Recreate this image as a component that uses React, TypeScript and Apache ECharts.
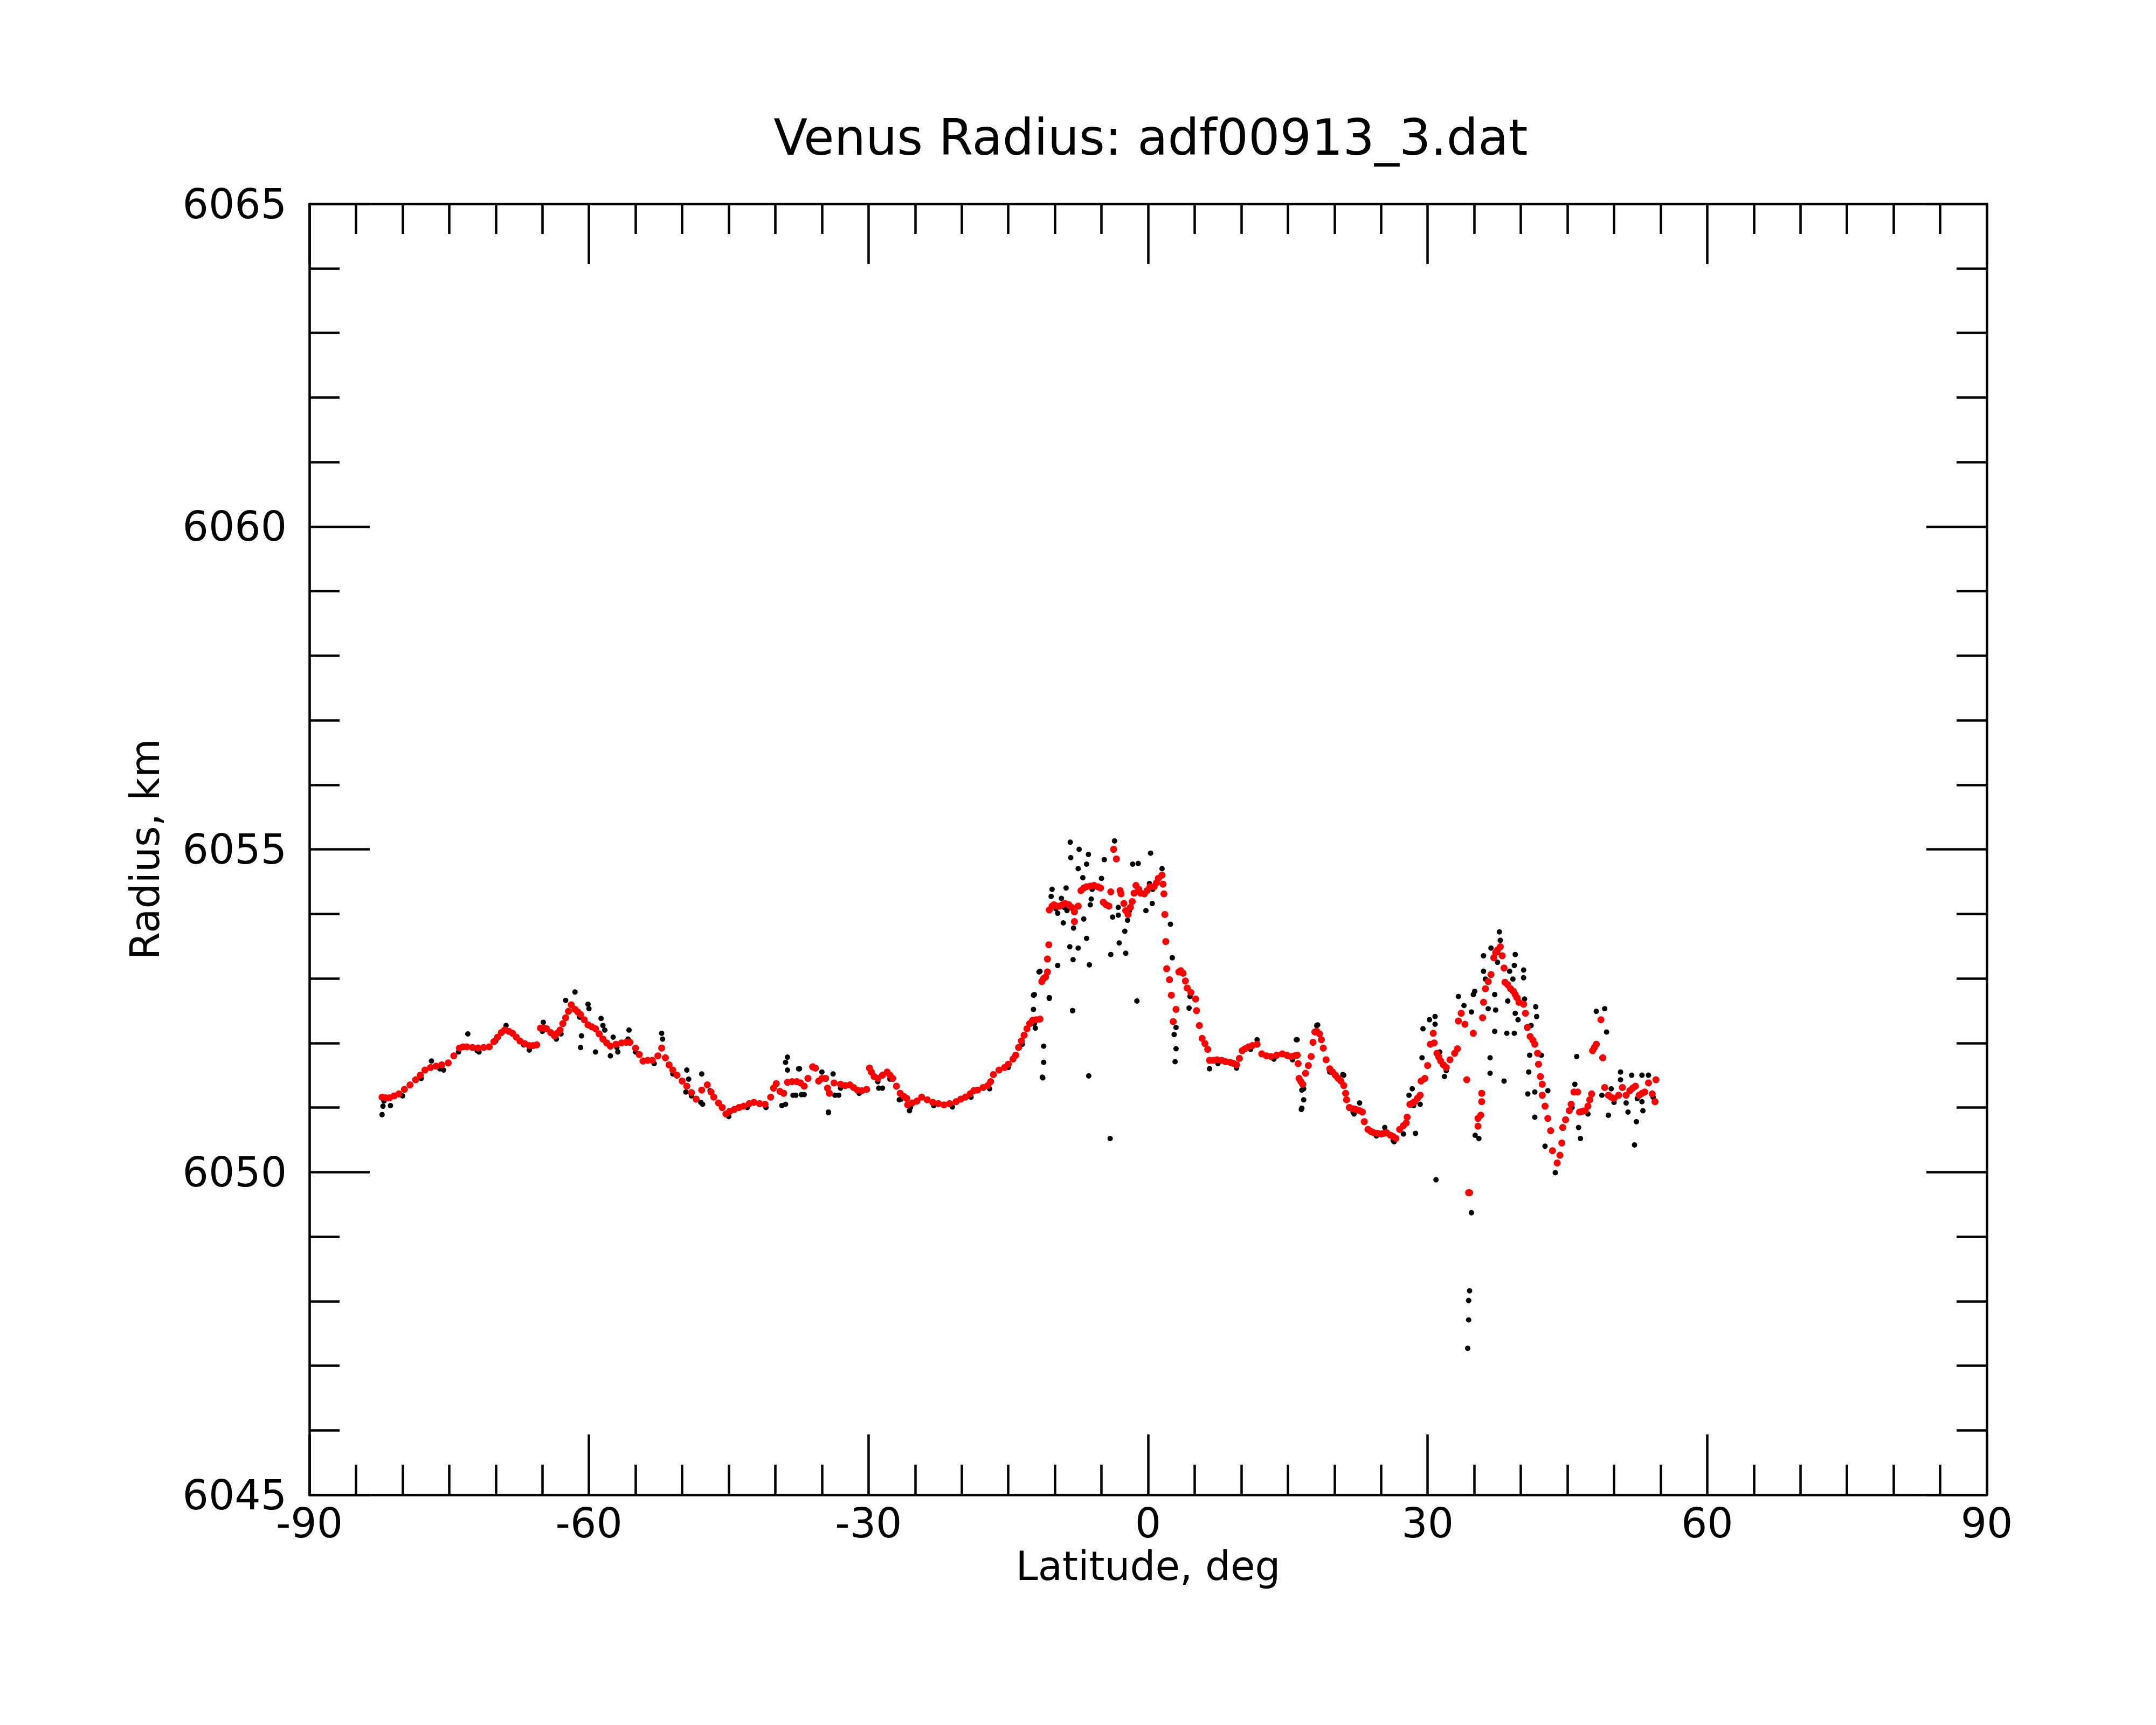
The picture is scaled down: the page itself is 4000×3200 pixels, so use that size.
import React, { useEffect, useRef } from "react";
import * as echarts from "echarts";

const TITLE = "Venus Radius: adf00913_3.dat";
const X_NAME = "Latitude, deg";
const Y_NAME = "Radius, km";
const X_MIN = -90;
const X_MAX = 90;
const X_STEP = 30;
const Y_MIN = 6045;
const Y_MAX = 6065;
const Y_STEP = 5;

// smoothed (red) radius profile: [latitude deg, radius km]
const smoothedPoints: [number, number][] = [
  [-82.2, 6051.16], [-81.8, 6051.15], [-81.4, 6051.15], [-80.9, 6051.18], [-80.4, 6051.21],
  [-79.8, 6051.28], [-79.2, 6051.35], [-78.6, 6051.43], [-78.1, 6051.5], [-77.6, 6051.58],
  [-77.0, 6051.62], [-76.4, 6051.64], [-75.8, 6051.66], [-75.1, 6051.69], [-74.5, 6051.8],
  [-73.9, 6051.92], [-73.5, 6051.94], [-73.1, 6051.94], [-72.5, 6051.93], [-71.9, 6051.92],
  [-71.3, 6051.93], [-70.7, 6051.94], [-70.2, 6052.02], [-69.8, 6052.09], [-69.4, 6052.16],
  [-69.05, 6052.2], [-68.6, 6052.18], [-68.2, 6052.15], [-67.8, 6052.09], [-67.4, 6052.03],
  [-66.9, 6051.99], [-66.4, 6051.96], [-66.0, 6051.96], [-65.6, 6051.97], [-65.2, 6052.23],
  [-64.9, 6052.23], [-64.55, 6052.22], [-64.1, 6052.16], [-63.7, 6052.11], [-63.4, 6052.15],
  [-63.1, 6052.2], [-62.8, 6052.3], [-62.5, 6052.39], [-62.2, 6052.49], [-61.9, 6052.59],
  [-61.5, 6052.52], [-61.2, 6052.48], [-60.9, 6052.44], [-60.5, 6052.36], [-60.1, 6052.28],
  [-59.7, 6052.25], [-59.3, 6052.22], [-58.9, 6052.14], [-58.5, 6052.06], [-58.1, 6052.0],
  [-57.7, 6051.95], [-57.1, 6051.98], [-56.5, 6052.0], [-56.0, 6052.01], [-55.6, 6052.01],
  [-55.0, 6051.92], [-54.6, 6051.82], [-54.2, 6051.72], [-53.7, 6051.73], [-53.2, 6051.73],
  [-52.6, 6051.8], [-52.2, 6051.92], [-51.8, 6051.77], [-51.4, 6051.66], [-51.0, 6051.58],
  [-50.55, 6051.5], [-50.0, 6051.41], [-49.5, 6051.33], [-49.0, 6051.23], [-48.5, 6051.13],
  [-47.9, 6051.27], [-47.3, 6051.35], [-46.9, 6051.24], [-46.6, 6051.16], [-46.1, 6051.07],
  [-45.7, 6051.0], [-45.3, 6050.9], [-44.9, 6050.94], [-44.4, 6050.97], [-43.9, 6051.0],
  [-43.4, 6051.02], [-42.8, 6051.06], [-42.3, 6051.08], [-41.7, 6051.06], [-41.1, 6051.05],
  [-40.5, 6051.16], [-40.2, 6051.3], [-39.9, 6051.37], [-39.5, 6051.25], [-39.1, 6051.22],
  [-38.7, 6051.39], [-38.2, 6051.4], [-37.7, 6051.4], [-37.3, 6051.38], [-36.9, 6051.33],
  [-36.5, 6051.45], [-36.0, 6051.63], [-35.7, 6051.61], [-35.35, 6051.41], [-35.0, 6051.45],
  [-34.6, 6051.45], [-34.4, 6051.3], [-34.2, 6051.22], [-33.7, 6051.38], [-33.0, 6051.36],
  [-32.5, 6051.34], [-32.0, 6051.35], [-31.6, 6051.31], [-31.2, 6051.27], [-30.7, 6051.26],
  [-30.2, 6051.28], [-29.9, 6051.61], [-29.7, 6051.55], [-29.4, 6051.48], [-29.0, 6051.45],
  [-28.5, 6051.5], [-28.0, 6051.55], [-27.7, 6051.5], [-27.4, 6051.45], [-27.0, 6051.33],
  [-26.6, 6051.22], [-26.2, 6051.17], [-25.9, 6051.14], [-25.8, 6051.04], [-25.3, 6051.07],
  [-24.8, 6051.1], [-24.3, 6051.16], [-23.7, 6051.12], [-23.1, 6051.08], [-22.5, 6051.06],
  [-21.9, 6051.04], [-21.3, 6051.06], [-20.6, 6051.09], [-20.1, 6051.13], [-19.6, 6051.16],
  [-19.1, 6051.21], [-18.7, 6051.26], [-18.3, 6051.27], [-17.7, 6051.31], [-17.2, 6051.34],
  [-16.9, 6051.4], [-16.6, 6051.51], [-16.0, 6051.58], [-15.4, 6051.62], [-15.0, 6051.67],
  [-14.5, 6051.75], [-14.2, 6051.81], [-13.9, 6051.93], [-13.6, 6052.03], [-13.3, 6052.12],
  [-13.0, 6052.22], [-12.7, 6052.3], [-12.4, 6052.35], [-12.0, 6052.36], [-11.6, 6052.37],
  [-11.4, 6052.95], [-11.2, 6053.0], [-11.0, 6053.02], [-10.8, 6053.1], [-10.8, 6053.3],
  [-10.65, 6053.52], [-10.6, 6054.06], [-10.3, 6054.12], [-10.1, 6054.14], [-9.8, 6054.12],
  [-9.5, 6054.12], [-9.2, 6054.14], [-8.9, 6054.16], [-8.5, 6054.14], [-8.2, 6054.1],
  [-7.9, 6054.03], [-7.9, 6053.88], [-7.5, 6054.12], [-7.2, 6054.36], [-6.9, 6054.4],
  [-6.6, 6054.42], [-6.2, 6054.43], [-5.8, 6054.44], [-5.4, 6054.42], [-5.1, 6054.4],
  [-4.8, 6054.18], [-4.5, 6054.14], [-4.2, 6054.12], [-4.0, 6054.34], [-3.7, 6055.0],
  [-3.4, 6054.85], [-3.0, 6054.36], [-2.9, 6054.31], [-2.6, 6054.16], [-2.4, 6054.05],
  [-2.15, 6053.99], [-1.9, 6054.1], [-1.7, 6054.19], [-1.5, 6054.32], [-1.3, 6054.44],
  [-1.0, 6054.38], [-0.8, 6054.32], [-0.4, 6054.31], [-0.1, 6054.36], [0.2, 6054.42],
  [0.65, 6054.42], [0.9, 6054.48], [1.1, 6054.55], [1.5, 6054.6], [1.6, 6054.46],
  [1.7, 6054.31], [1.8, 6053.99], [1.9, 6053.57], [2.0, 6053.15], [2.3, 6052.98],
  [2.5, 6052.74], [2.7, 6052.33], [3.0, 6052.52], [3.3, 6053.1], [3.5, 6053.12],
  [3.75, 6053.08], [4.0, 6052.96], [4.2, 6052.85], [4.6, 6052.78], [5.1, 6052.68],
  [5.2, 6052.5], [5.5, 6052.27], [5.8, 6052.07], [6.1, 6051.99], [6.4, 6051.9],
  [6.6, 6051.73], [7.0, 6051.73], [7.4, 6051.74], [7.9, 6051.73], [8.3, 6051.71],
  [8.8, 6051.7], [9.2, 6051.68], [9.5, 6051.66], [9.8, 6051.76], [10.1, 6051.88],
  [10.4, 6051.91], [10.8, 6051.94], [11.2, 6051.96], [11.7, 6051.98], [12.2, 6051.83],
  [12.7, 6051.8], [13.2, 6051.79], [13.8, 6051.81], [14.4, 6051.83], [14.9, 6051.81],
  [15.3, 6051.79], [15.7, 6051.8], [16.0, 6051.81], [16.1, 6051.68], [16.2, 6051.45],
  [16.4, 6051.4], [16.6, 6051.36], [16.9, 6051.53], [17.2, 6051.65], [17.5, 6051.79],
  [17.7, 6052.01], [17.9, 6052.17], [18.1, 6052.18], [18.4, 6052.14], [18.6, 6052.05],
  [18.8, 6051.92], [19.1, 6051.74], [19.5, 6051.6], [19.8, 6051.55], [20.1, 6051.5],
  [20.4, 6051.45], [20.7, 6051.41], [21.0, 6051.34], [21.2, 6051.22], [21.3, 6051.12],
  [21.6, 6051.0], [22.0, 6050.98], [22.3, 6050.97], [22.7, 6050.95], [23.0, 6050.93],
  [23.2, 6050.78], [23.6, 6050.66], [23.9, 6050.63], [24.2, 6050.61], [24.6, 6050.6],
  [25.0, 6050.59], [25.3, 6050.6], [25.6, 6050.61], [26.0, 6050.57], [26.3, 6050.55],
  [26.6, 6050.52], [27.0, 6050.66], [27.4, 6050.72], [27.7, 6050.76], [27.8, 6050.85],
  [28.1, 6051.05], [28.4, 6051.07], [28.6, 6051.09], [28.9, 6051.14], [29.2, 6051.19],
  [29.3, 6051.41], [29.7, 6051.45], [30.0, 6051.65], [30.3, 6051.98], [30.6, 6052.15],
  [30.7, 6052.0], [31.0, 6051.84], [31.2, 6051.78], [31.4, 6051.72], [31.7, 6051.66],
  [32.0, 6051.62], [32.4, 6051.74], [32.9, 6051.84], [33.2, 6051.91], [33.3, 6052.34],
  [33.6, 6052.46], [34.0, 6052.29], [34.2, 6051.43], [34.4, 6049.68], [34.5, 6049.68],
  [34.9, 6052.15], [35.4, 6050.83], [35.4, 6050.71], [35.7, 6050.88], [35.8, 6051.09],
  [35.8, 6051.22], [35.9, 6052.39], [36.0, 6052.63], [36.2, 6052.84], [36.5, 6052.95],
  [36.8, 6053.06], [37.1, 6053.32], [37.3, 6053.4], [37.5, 6053.44], [37.8, 6053.49],
  [38.0, 6053.35], [38.2, 6053.16], [38.3, 6052.94], [38.6, 6052.9], [38.9, 6052.84],
  [39.2, 6052.8], [39.4, 6052.75], [39.6, 6052.7], [39.8, 6052.63], [40.3, 6052.6],
  [40.5, 6052.46], [40.7, 6052.24], [41.0, 6052.1], [41.3, 6052.04], [41.5, 6051.98],
  [41.8, 6051.84], [41.9, 6051.67], [42.1, 6051.48], [42.3, 6051.36], [42.3, 6051.19],
  [42.6, 6051.02], [42.9, 6050.83], [43.2, 6050.64], [43.4, 6050.33], [43.9, 6050.14],
  [44.2, 6050.26], [44.4, 6050.45], [44.5, 6050.69], [44.8, 6050.81], [45.2, 6050.95],
  [45.4, 6051.05], [45.7, 6051.24], [46.1, 6051.24], [46.3, 6050.93], [46.6, 6050.94],
  [46.9, 6050.95], [47.2, 6051.02], [47.4, 6051.12], [47.6, 6051.21], [47.7, 6051.88],
  [47.9, 6051.93], [48.1, 6051.98], [48.6, 6052.36], [48.8, 6051.77], [49.0, 6051.31],
  [49.4, 6051.19], [49.7, 6051.16], [50.0, 6051.14], [50.5, 6051.19], [50.9, 6051.31],
  [51.3, 6051.19], [51.7, 6051.26], [52.0, 6051.3], [52.3, 6051.33], [52.7, 6051.19],
  [53.0, 6051.22], [53.3, 6051.24], [53.7, 6051.38], [54.1, 6051.21], [54.4, 6051.09],
  [54.5, 6051.43],
];

// raw (black) radius measurements: [latitude deg, radius km]
const rawPoints: [number, number][] = [
  [-82.0, 6051.1], [-80.0, 6051.18], [-78.0, 6051.45], [-76.0, 6051.6], [-74.0, 6051.86],
  [-72.0, 6051.88], [-70.0, 6052.03], [-67.0, 6051.97], [-65.0, 6052.18], [-63.0, 6052.14],
  [-61.0, 6052.4], [-59.0, 6052.15], [-57.0, 6051.93], [-55.0, 6051.86], [-53.0, 6051.68],
  [-51.0, 6051.52], [-49.0, 6051.18], [-47.0, 6051.26], [-45.0, 6050.86], [-43.0, 6051.0],
  [-41.0, 6051.0], [-37.0, 6051.34], [-33.0, 6051.3], [-31.0, 6051.22], [-29.0, 6051.4],
  [-25.5, 6051.0], [-23.0, 6051.03], [-21.0, 6051.01], [-19.0, 6051.16], [-17.0, 6051.29],
  [-15.0, 6051.62], [-13.5, 6051.98], [-12.2, 6052.3], [-9.9, 6054.08], [-9.0, 6054.1],
  [-6.0, 6054.38], [-2.0, 6054.05], [0.5, 6054.38], [4.5, 6052.72], [7.5, 6051.68],
  [9.5, 6051.61], [11.0, 6051.9], [13.5, 6051.75], [15.5, 6051.74], [19.5, 6051.55],
  [22.0, 6050.93], [24.5, 6050.56], [26.3, 6050.49], [28.5, 6051.03], [32.0, 6051.57],
  [37.5, 6053.4], [39.5, 6052.7], [45.5, 6051.0], [50.0, 6051.08], [52.5, 6051.14],
  [54.2, 6051.16],
  [-82.2, 6050.89], [-82.1, 6051.02], [-81.3, 6051.03], [-76.9, 6051.72], [-75.6, 6051.58],
  [-73.0, 6052.14], [-71.8, 6051.86], [-68.9, 6052.27], [-66.4, 6051.89], [-64.9, 6052.32],
  [-63.5, 6052.06], [-61.5, 6052.79], [-62.5, 6052.66], [-60.1, 6052.6], [-60.0, 6052.53],
  [-60.8, 6052.11], [-60.9, 6051.93], [-59.3, 6051.86], [-58.7, 6052.38], [-58.5, 6052.27],
  [-58.3, 6052.2], [-57.7, 6051.8], [-57.4, 6052.09], [-56.9, 6051.86], [-55.7, 6052.2],
  [-55.8, 6052.06], [-52.2, 6052.15], [-52.1, 6052.06], [-49.5, 6051.58], [-49.3, 6051.44],
  [-49.6, 6051.24], [-47.9, 6051.52], [-47.8, 6051.05], [-48.0, 6051.08], [-38.7, 6051.78],
  [-38.7, 6051.58], [-37.5, 6051.6], [-37.8, 6051.19], [-38.9, 6051.05], [-37.2, 6051.2],
  [-38.9, 6051.7], [-39.3, 6051.03], [-38.1, 6051.19], [-37.4, 6051.6], [-36.9, 6051.2],
  [-35.0, 6051.55], [-33.8, 6051.52], [-34.3, 6050.93], [-34.3, 6050.92], [-33.6, 6051.19],
  [-33.2, 6051.19], [-28.9, 6051.3], [-28.5, 6051.3], [-27.7, 6051.44], [-26.5, 6051.13],
  [-26.7, 6051.12], [-25.6, 6050.95],
  [-12.2, 6052.75], [-12.3, 6052.52], [-12.1, 6052.23], [-11.2, 6051.95], [-11.2, 6051.7],
  [-11.3, 6051.46], [-10.6, 6052.69], [-8.1, 6052.5], [-11.7, 6053.1], [-11.6, 6053.11],
  [-12.3, 6052.74], [-10.6, 6052.7], [-11.35, 6051.47],
  [-8.35, 6055.11], [-7.4, 6055.0], [-6.4, 6054.92], [-8.3, 6054.87], [-6.6, 6054.77],
  [-7.5, 6054.7], [-4.7, 6054.84], [-3.6, 6055.13], [-1.65, 6054.77], [-1.06, 6054.78],
  [0.27, 6054.94], [1.5, 6054.7], [-7.0, 6054.56], [-5.0, 6054.55], [-10.3, 6054.38],
  [-8.8, 6054.4], [0.15, 6054.47], [-10.4, 6054.27], [-9.3, 6054.24], [-6.1, 6054.23],
  [-6.2, 6054.14], [0.45, 6054.16], [-0.23, 6054.05], [-9.7, 6054.01], [-8.7, 6054.05],
  [-3.2, 6054.1], [-3.2, 6053.98], [-3.8, 6053.95], [-2.2, 6053.9], [-9.1, 6053.86],
  [-8.0, 6053.78], [-6.9, 6053.92], [-2.5, 6053.73], [-6.6, 6053.62], [-8.4, 6053.49],
  [-7.5, 6053.47], [-3.1, 6053.55], [-4.0, 6053.37], [-2.4, 6053.39], [-8.05, 6053.29],
  [-9.7, 6053.2], [-6.3, 6053.21], [-10.6, 6052.7], [-8.1, 6052.5], [-1.2, 6052.65],
  [-6.37, 6051.49], [-4.07, 6050.52],
  [2.4, 6053.84], [2.6, 6053.32], [3.0, 6052.24], [2.8, 6052.13], [3.0, 6051.91],
  [2.9, 6051.71], [4.4, 6052.54], [6.6, 6051.6], [11.7, 6052.05], [16.0, 6052.05],
  [16.5, 6051.27], [16.7, 6051.12], [16.5, 6050.99], [18.1, 6052.27], [20.9, 6051.51],
  [15.9, 6052.05], [16.45, 6050.97], [16.7, 6051.29], [18.2, 6052.28], [21.0, 6051.5],
  [22.1, 6050.9], [22.7, 6051.07], [25.4, 6050.69], [26.4, 6050.47], [27.4, 6050.59],
  [28.7, 6050.6], [28.0, 6051.19], [28.35, 6051.29], [29.2, 6051.05], [29.4, 6051.77],
  [29.5, 6052.22], [30.2, 6052.36], [30.8, 6052.41], [30.8, 6052.29], [31.3, 6051.86],
  [31.8, 6051.48], [33.3, 6052.72], [33.9, 6052.58], [34.7, 6052.48], [34.9, 6052.75],
  [35.05, 6052.8], [35.1, 6050.57], [35.5, 6050.52], [36.0, 6053.35], [36.0, 6053.11],
  [36.2, 6052.99], [36.5, 6052.53], [36.7, 6051.77], [36.7, 6051.53], [37.2, 6052.18],
  [37.2, 6052.75], [37.3, 6052.51], [36.8, 6053.47], [37.7, 6053.72], [37.8, 6053.59],
  [37.5, 6053.25], [38.2, 6051.41], [38.5, 6052.15], [38.6, 6052.65], [38.8, 6053.11],
  [39.15, 6052.99], [39.3, 6053.2], [39.4, 6053.37], [39.4, 6052.46], [39.3, 6052.15],
  [39.7, 6052.36], [40.3, 6053.13], [40.3, 6053.01], [40.4, 6052.68], [40.75, 6051.21],
  [40.85, 6051.55], [40.95, 6051.81], [41.1, 6052.27], [41.5, 6050.85], [41.5, 6051.24],
  [41.6, 6052.56], [41.7, 6052.41], [42.2, 6051.81], [42.6, 6050.4], [42.9, 6051.26],
  [43.7, 6049.99], [46.0, 6051.79], [45.8, 6051.36], [46.2, 6050.69], [46.4, 6050.52],
  [47.2, 6050.9], [48.1, 6052.49], [49.0, 6052.53], [49.2, 6052.17], [48.7, 6051.77],
  [48.7, 6051.19], [49.4, 6050.88], [49.7, 6051.29], [50.7, 6051.55], [50.7, 6051.43],
  [51.5, 6050.93], [51.3, 6051.07], [51.9, 6051.5], [52.4, 6050.78], [52.2, 6050.42],
  [53.0, 6051.5], [53.1, 6050.95], [53.7, 6051.5], [53.0, 6051.09],
  [30.9, 6049.88], [34.7, 6049.37], [34.5, 6048.16], [34.4, 6048.01], [34.4, 6047.71],
  [34.3, 6047.27],
];

const FONT = "'DejaVu Sans', 'Liberation Sans', sans-serif";
const INK = "#000000";

export default function App() {
  const ref = useRef<HTMLDivElement | null>(null);

  useEffect(() => {
    if (!ref.current) return;
    const chart = echarts.init(ref.current, undefined, { renderer: "svg" });

    const lineStyle = { color: INK, width: 4.5 };
    const baseX = {
      type: "value" as const,
      min: X_MIN,
      max: X_MAX,
      interval: X_STEP,
      axisLine: { show: true, onZero: false, lineStyle },
      axisTick: { show: true, inside: true, length: 112, lineStyle },
      minorTick: { show: true, splitNumber: 6, length: 56, lineStyle },
      splitLine: { show: false },
      minorSplitLine: { show: false },
    };
    const baseY = {
      type: "value" as const,
      min: Y_MIN,
      max: Y_MAX,
      interval: Y_STEP,
      axisLine: { show: true, onZero: false, lineStyle },
      axisTick: { show: true, inside: true, length: 112, lineStyle },
      minorTick: { show: true, splitNumber: 5, length: 56, lineStyle },
      splitLine: { show: false },
      minorSplitLine: { show: false },
    };

    chart.setOption({
      animation: false,
      backgroundColor: "#ffffff",
      title: {
        text: TITLE,
        left: 2130,
        top: 204,
        textAlign: "center",
        textStyle: { fontFamily: FONT, fontSize: 92, fontWeight: "normal", color: INK },
      },
      grid: { left: 574, top: 378, width: 3112, height: 2395, containLabel: false },
      xAxis: [
        {
          ...baseX,
          position: "bottom",
          name: X_NAME,
          nameLocation: "middle",
          nameGap: 95,
          nameTextStyle: { fontFamily: FONT, fontSize: 74, color: INK, verticalAlign: "top" },
          axisLabel: {
            show: true,
            margin: 14,
            fontFamily: FONT,
            fontSize: 76,
            color: INK,
            formatter: (v: number) => String(v),
          },
        },
        {
          ...baseX,
          position: "top",
          axisLabel: { show: false },
        },
      ],
      yAxis: [
        {
          ...baseY,
          position: "left",
          name: Y_NAME,
          nameLocation: "middle",
          nameGap: 268,
          nameTextStyle: { fontFamily: FONT, fontSize: 74, color: INK },
          axisLabel: {
            show: true,
            margin: 42,
            fontFamily: FONT,
            fontSize: 76,
            color: INK,
            formatter: (v: number) => String(v),
          },
        },
        {
          ...baseY,
          position: "right",
          axisLabel: { show: false },
        },
      ],
      series: [
        {
          type: "scatter",
          xAxisIndex: 0,
          yAxisIndex: 0,
          data: rawPoints,
          symbol: "circle",
          symbolSize: 10,
          itemStyle: { color: INK, opacity: 1 },
          silent: true,
        },
        {
          type: "scatter",
          xAxisIndex: 0,
          yAxisIndex: 0,
          data: smoothedPoints,
          symbol: "circle",
          symbolSize: 13,
          itemStyle: { color: "#ff0000", opacity: 1 },
          silent: true,
        },
      ],
    });

    return () => chart.dispose();
  }, []);

  return (
    <div
      ref={ref}
      style={{ position: "absolute", left: 0, top: 0, width: 4000, height: 3200, background: "#ffffff" }}
    />
  );
}
